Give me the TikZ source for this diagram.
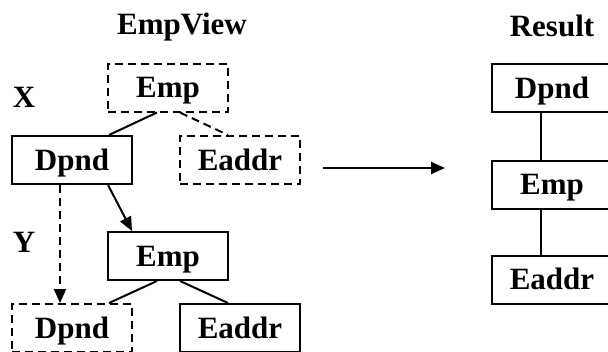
\documentclass[tikz,border=0pt]{standalone}
\usepackage{fontspec}
\setmainfont{Liberation Serif}
\usetikzlibrary{arrows.meta}
\tikzset{
  lbl/.style={font=\bfseries\fontsize{31}{36}\selectfont, inner sep=0pt},
  box/.style={lbl, draw, line width=2pt, minimum width=120pt, minimum height=48pt,
              text height=20.5pt, text depth=0pt},
  dbox/.style={box, dash pattern=on 8pt off 5pt},
  link/.style={line width=2pt},
  dlink/.style={link, dash pattern=on 8pt off 5pt},
  tip/.style={-{Triangle[length=14pt,width=12pt]}},
}
\begin{document}
\begin{tikzpicture}[x=1pt,y=-1pt]
\useasboundingbox (0,0) rectangle (608,351);
\clip (0,0) rectangle (608,351);
% titles and labels
\node[lbl] (t1) at (182,27) {EmpView};
\node[lbl] (t2) at (552,26) {Result};
\node[lbl] (lx) at (24,97) {X};
\node[lbl] (ly) at (24,242) {Y};
% view tree
\node[dbox] (e1) at (168,87.5) {Emp};
\node[box]  (d1) at (72,160) {Dpnd};
\node[dbox] (a1) at (240,160) {Eaddr};
\node[box]  (e2) at (168,256) {Emp};
\node[dbox] (d2) at (72,328) {Dpnd};
\node[box]  (a2) at (240,328) {Eaddr};
\draw[link]  ([xshift=-11pt]e1.south) -- ([xshift=37pt]d1.north);
\draw[dlink] ([xshift=12pt]e1.south) -- ([xshift=-12pt]a1.north);
\draw[link,tip] ([xshift=36pt]d1.south) -- ([xshift=-36pt]e2.north);
\draw[dlink,tip] ([xshift=-12pt]d1.south) -- ([xshift=-12pt]d2.north);
\draw[link]  ([xshift=-11pt]e2.south) -- ([xshift=37pt]d2.north);
\draw[link]  ([xshift=12pt]e2.south) -- ([xshift=-12pt]a2.north);
% transformation arrow
\coordinate (s) at (323,168);
\coordinate (t) at (445,168);
\draw[link,tip] (s) -- (t);
% result chain
\node[box] (r1) at (552,88) {Dpnd};
\node[box] (r2) at (552,184.5) {Emp};
\node[box] (r3) at (552,279.5) {Eaddr};
\draw[link] ([xshift=-11pt]r1.south) -- ([xshift=-11pt]r2.north);
\draw[link] ([xshift=-11pt]r2.south) -- ([xshift=-11pt]r3.north);
\end{tikzpicture}
\end{document}
